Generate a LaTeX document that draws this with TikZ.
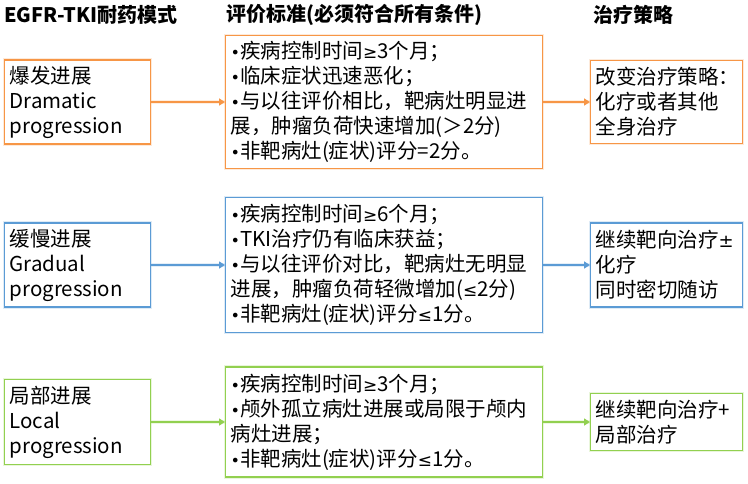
\documentclass[tikz,border=0pt]{standalone}
\usepackage{fontspec}
\setmainfont{Noto Sans CJK SC}
\newfontfamily\symfont{DejaVu Sans}
\usetikzlibrary{arrows.meta,positioning}
\definecolor{dramatic}{RGB}{247,150,70}
\definecolor{gradual}{RGB}{91,155,213}
\definecolor{local}{RGB}{146,208,80}
\newcommand{\txt}{\fontsize{20.5}{25}\selectfont}
\newcommand{\bul}{{\symfont\fontsize{16}{25}\selectfont •}}
\newcommand{\gsym}{{\symfont\fontsize{17}{25}\selectfont ≥}}
\newcommand{\lsym}{{\symfont\fontsize{17}{25}\selectfont ≤}}
\newcommand{\pmsym}{{\symfont\fontsize{18}{25}\selectfont ±}}

\tikzset{
  box/.style={draw=#1, line width=1.2pt, fill=white, anchor=west, align=left,
    inner xsep=5pt, inner ysep=2pt, font=\txt,
    preaction={draw=#1!45, line width=3.6pt, opacity=.45}},
  link/.style={draw=#1, line width=2pt, -{Triangle[length=6pt,width=7pt]},
    preaction={draw=#1!45, line width=4pt, opacity=.35, -}},
  head/.style={anchor=west, inner sep=0pt, font=\bfseries\fontsize{20}{22}\selectfont}
}

\begin{document}
\begin{tikzpicture}[x=1pt,y=-1pt]
    \useasboundingbox (0,0) rectangle (748,483);
    %\draw[help lines] (0,0) grid[step=50] (748,483);

    % headers
    \node[head] (hmode) at (4,15) {EGFR-TKI耐药模式};
    \node[head] (hcrit) at (226,15) {评价标准(必须符合所有条件)};
    \node[head] (hplan) at (593,15) {治疗策略};

    % dramatic progression
    \node[box=dramatic, text width=136pt, minimum width=146pt, minimum height=84pt] (mode1) at (4,102)
        {爆发进展\\Dramatic\\progression};
    \node[box=dramatic, text width=307pt, minimum width=317pt, minimum height=133pt] (crit1) at (225,102)
        {\bul 疾病控制时间\gsym 3个月；\\\bul 临床症状迅速恶化；\\\bul 与以往评价相比，靶病灶明显进\\展，肿瘤负荷快速增加(＞2分)\\\bul 非靶病灶(症状)评分=2分。};
    \node[box=dramatic, text width=142pt, minimum width=152pt, minimum height=83pt] (plan1) at (590,102)
        {改变治疗策略：\\化疗或者其他\\全身治疗};
    \draw[link=dramatic] (mode1) -- (crit1);
    \draw[link=dramatic] (crit1) -- (plan1);

    % gradual progression
    \node[box=gradual, text width=136pt, minimum width=146pt, minimum height=84pt] (mode2) at (4,265)
        {缓慢进展\\Gradual\\progression};
    \node[box=gradual, text width=307pt, minimum width=317pt, minimum height=135pt] (crit2) at (225,265)
        {\bul 疾病控制时间\gsym 6个月；\\\bul TKI治疗仍有临床获益；\\\bul 与以往评价对比，靶病灶无明显\\进展，肿瘤负荷轻微增加(\lsym 2分)\\\bul 非靶病灶(症状)评分\lsym 1分。};
    \node[box=gradual, text width=142pt, minimum width=152pt, minimum height=84pt] (plan2) at (590,265)
        {继续靶向治疗\pmsym\\化疗\\同时密切随访};
    \draw[link=gradual] (mode2) -- (crit2);
    \draw[link=gradual] (crit2) -- (plan2);

    % local progression
    \node[box=local, text width=136pt, minimum width=146pt, minimum height=85pt] (mode3) at (4,422)
        {局部进展\\Local\\progression};
    \node[box=local, text width=307pt, minimum width=317pt, minimum height=110pt] (crit3) at (225,422)
        {\bul 疾病控制时间\gsym 3个月；\\\bul 颅外孤立病灶进展或局限于颅内\\病灶进展；\\\bul 非靶病灶(症状)评分\lsym 1分。};
    \node[box=local, text width=142pt, minimum width=152pt, minimum height=57pt] (plan3) at (590,422)
        {继续靶向治疗+\\局部治疗};
    \draw[link=local] (mode3) -- (crit3);
    \draw[link=local] (crit3) -- (plan3);
\end{tikzpicture}
\end{document}
